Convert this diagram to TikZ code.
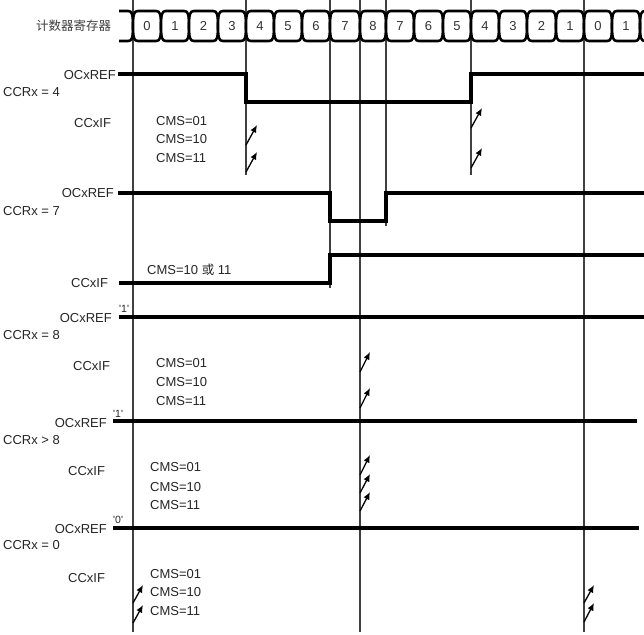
\documentclass[tikz,border=0pt]{standalone}
\usepackage{fontspec}
\setmainfont{Liberation Sans}
\newfontfamily\cjk{Noto Sans CJK SC}
\usetikzlibrary{arrows.meta}
\newcommand\sq{\XeTeXglyph\XeTeXcharglyph"27\relax}
\begin{document}
\begin{tikzpicture}[x=1pt,y=-1pt,
  lbl/.style={font=\fontsize{13}{15}\selectfont, text=black!85, inner sep=0pt},
  small/.style={font=\fontsize{10.5}{12}\selectfont, text=black!85, inner sep=0pt},
  sig/.style={line width=3.2pt, line join=miter},
  vline/.style={line width=1.2pt, black!75},
  bus/.style={line width=2.6pt, line join=round},
  flag/.style={line width=1.3pt, -{Latex[length=7.5pt,width=6.5pt]}},
]
\useasboundingbox[fill=white] (0,0) rectangle (644,634);

% vertical time marks
\foreach \x/\e in {133/632,246/175,330/288,360/632,386/226,471/175,584/632}
  \draw[vline] (\x,0) -- (\x,\e);

% counter register bus
\node[lbl, anchor=west, font=\cjk\fontsize{12.5}{14}\selectfont, text=black!75] (reg) at (36,26) {计数器寄存器};
\draw[bus] (119,11) -- (128,11) .. controls (132,11) and (133,14) .. (133,26)
  .. controls (133,38) and (132,41) .. (128,41) -- (119,41);
\foreach \a/\b/\d [count=\i] in {133/161/0,161/189/1,189/218/2,218/246/3,246/274/4,274/302/5,302/330/6,330/360/7,360/386/8,386/414/7,414/443/6,443/471/5,471/499/4,499/527/3,527/556/2,556/584/1,584/612/0,612/640/1}{
  \filldraw[bus, fill=white] (\a,26) .. controls (\a,14) and (\a+1,11) .. (\a+5,11) -- (\b-5,11)
    .. controls (\b-1,11) and (\b,14) .. (\b,26)
    .. controls (\b,38) and (\b-1,41) .. (\b-5,41) -- (\a+5,41)
    .. controls (\a+1,41) and (\a,38) .. (\a,26) -- cycle;
  \node[lbl, text=black!80] (c\i) at ({(\a+\b)/2},26) {\d};
}
\draw[bus] (645,11) .. controls (641,11) and (640,14) .. (640,26)
  .. controls (640,38) and (641,41) .. (645,41);

% CCRx = 4
\node[lbl, anchor=east] (r1o) at (116,75) {OCxREF};
\node[lbl, anchor=west] (r1c) at (3,92) {CCRx = 4};
\node[lbl, anchor=west] (r1i) at (74,123) {CCxIF};
\node[lbl, anchor=west] (r1a) at (156,121) {CMS=01};
\node[lbl, anchor=west] (r1b) at (156,139) {CMS=10};
\node[lbl, anchor=west] (r1d) at (156,158) {CMS=11};
\draw[sig] (118,74) -- (246,74) -- (246,102) -- (471,102) -- (471,74) -- (644,74);
\draw[flag] (246,145) -- (257,125);
\draw[flag] (246,172) -- (257,152);
\draw[flag] (471,128) -- (482,108);
\draw[flag] (471,168) -- (482,148);

% CCRx = 7
\node[lbl, anchor=east] (r2o) at (114,193) {OCxREF};
\node[lbl, anchor=west] (r2c) at (3,211) {CCRx = 7};
\node[lbl, anchor=west] (r2i) at (71,283) {CCxIF};
\node[lbl, anchor=west] (r2a) at (147,270) {CMS=10 {\cjk\fontsize{12.5}{14}\selectfont 或} 11};
\draw[sig] (118,193) -- (330,193) -- (330,221) -- (386,221) -- (386,193) -- (644,193);
\draw[sig] (119,283) -- (330,283) -- (330,255) -- (644,255);

% CCRx = 8
\node[small, anchor=west] (r3q) at (119,309) {\sq1\sq};
\node[lbl, anchor=east] (r3o) at (112,318) {OCxREF};
\node[lbl, anchor=west] (r3c) at (3,335) {CCRx = 8};
\node[lbl, anchor=west] (r3i) at (73,366) {CCxIF};
\node[lbl, anchor=west] (r3a) at (156,363) {CMS=01};
\node[lbl, anchor=west] (r3b) at (156,382) {CMS=10};
\node[lbl, anchor=west] (r3d) at (156,401) {CMS=11};
\draw[sig] (119,317) -- (644,317);
\draw[flag] (360,372) -- (370,352);
\draw[flag] (360,408) -- (370,388);

% CCRx > 8
\node[small, anchor=west] (r4q) at (113,414) {\sq1\sq};
\node[lbl, anchor=east] (r4o) at (107,423) {OCxREF};
\node[lbl, anchor=west] (r4c) at (3,440) {CCRx > 8};
\node[lbl, anchor=west] (r4i) at (68,471) {CCxIF};
\node[lbl, anchor=west] (r4a) at (150,467) {CMS=01};
\node[lbl, anchor=west] (r4b) at (150,487) {CMS=10};
\node[lbl, anchor=west] (r4d) at (150,505) {CMS=11};
\draw[sig] (113,421) -- (637,421);
\draw[flag] (360,475) -- (370,455);
\draw[flag] (360,493) -- (370,474);
\draw[flag] (360,511) -- (370,492);

% CCRx = 0
\node[small, anchor=west] (r5q) at (113,520) {\sq0\sq};
\node[lbl, anchor=east] (r5o) at (107,529) {OCxREF};
\node[lbl, anchor=west] (r5c) at (3,545) {CCRx = 0};
\node[lbl, anchor=west] (r5i) at (68,578) {CCxIF};
\node[lbl, anchor=west] (r5a) at (150,574) {CMS=01};
\node[lbl, anchor=west] (r5b) at (150,592) {CMS=10};
\node[lbl, anchor=west] (r5d) at (150,611) {CMS=11};
\draw[sig] (113,528) -- (639,528);
\draw[flag] (133,603) -- (143,585);
\draw[flag] (133,623) -- (143,605);
\draw[flag] (584,603) -- (594,585);
\draw[flag] (584,622) -- (594,603);
\end{tikzpicture}
\end{document}
